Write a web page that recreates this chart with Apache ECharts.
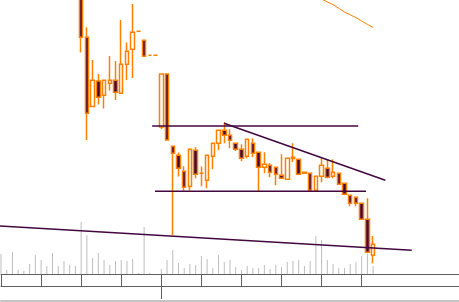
<!DOCTYPE html>
<html>
<head>
<meta charset="utf-8">
<script src="https://cdn.jsdelivr.net/npm/echarts@6/dist/echarts.min.js"></script>
<style>html,body{margin:0;padding:0;background:#fff;}#c{width:459px;height:302px;}</style>
</head>
<body>
<div id="c"></div>
<script>
const categories = ['03-04','03-05','03-06','03-07','03-08','03-09','03-10','03-11','03-12','03-13','03-14','03-15','03-16','03-17','03-18','03-19','03-20','03-21','03-22','03-23','03-24','03-25','03-26','03-27','03-28','03-29','03-30','03-31',
'04-01','04-02','04-03','04-04','04-05','04-06','04-07','04-08','04-09','04-10','04-11','04-12','04-13','04-14','04-15','04-16','04-17','04-18','04-19','04-20','04-21','04-22','04-23','04-24','04-25','04-26','04-27','04-28','04-29','04-30',
'05-01','05-02','05-03','05-04','05-05','05-06','05-07','05-08'];

const openPrices = ['-','-','-','-','-','-','-','-','-','-','-','-','-','-',
41.50,38.14,34.67,35.95,35.24,35.84,35.99,35.34,36.79,37.54,38.44,37.99,37.24,37.24,33.65,36.30,32.69,32.24,31.44,30.67,32.49,31.34,30.99,32.19,32.84,33.49,33.24,32.84,32.54,32.19,32.84,32.39,31.64,31.74,31.64,31.24,31.04,32.07,32.04,31.34,31.34,30.49,31.19,31.59,31.19,31.34,30.84,30.24,30.14,29.84,29.04,27.24];
const closePrices = ['-','-','-','-','-','-','-','-','-','-','-','-','-','-',
38.14,34.34,35.99,35.14,35.99,35.99,35.39,36.79,37.44,38.39,38.44,37.19,37.24,37.24,36.30,33.00,32.34,31.59,30.64,32.54,31.29,31.34,32.24,32.84,33.49,33.24,32.99,32.54,32.09,33.04,32.34,31.64,31.79,31.39,31.29,31.09,32.09,32.14,31.29,31.39,30.49,31.19,31.74,31.14,31.39,30.79,30.29,29.84,29.84,29.04,27.39,27.79];
const lowPrices = ['-','-','-','-','-','-','-','-','-','-','-','-','-','-',
37.37,33.00,34.67,34.77,34.57,35.47,35.00,35.34,36.00,36.10,38.44,37.19,37.24,37.24,33.55,33.00,28.25,31.17,30.47,30.47,31.09,30.69,30.59,31.54,32.49,32.84,32.59,32.45,31.94,32.09,32.14,30.45,31.34,31.14,30.74,31.09,31.04,31.90,31.29,31.34,30.49,30.49,30.89,31.09,31.09,30.79,30.29,29.69,29.69,29.04,27.34,26.84];
const highPrices = ['-','-','-','-','-','-','-','-','-','-','-','-','-','-',
41.75,38.64,37.00,36.30,35.99,37.20,36.95,39.00,37.87,39.80,38.44,37.99,37.24,37.24,36.30,36.30,32.69,32.37,31.69,32.54,32.64,31.67,32.24,32.84,33.49,33.89,33.54,32.84,32.79,33.04,33.09,32.39,32.39,31.84,31.64,32.29,32.09,32.84,32.04,31.39,31.34,31.19,32.09,32.04,32.04,31.34,30.84,30.24,30.14,29.84,30.09,28.20];
const volumes = [500,100,550,100,75,250,475,350,200,525,200,325,225,200,
1300,975,400,525,350,225,325,350,325,375,25,1175,25,0,125,350,600,275,150,250,225,450,375,150,475,300,350,175,100,200,150,150,225,125,225,175,300,325,350,200,325,950,850,350,250,150,150,250,300,450,500,200];
const movingAverage = ['-','-','-','-','-','-','-','-','-','-','-','-','-','-','-','-','-','-','-','-','-','-','-','-','-','-','-','-','-','-','-','-','-','-','-','-','-','-','-','-','-','-','-','-','-','-','-','-','-','-','-','-','-','-','-',
40.23,40.05,39.90,39.77,39.58,39.40,39.26,39.12,38.95,38.78,38.63];

// trend lines: [categoryIndex, price] end points
const longSupport = [[-0.175, 28.70], [71.74, 27.49]];
const upperLevel = [[26.4, 33.70], [62.4, 33.70]];
const lowerLevel = [[26.9, 30.44], [63.76, 30.44]];
const fallingResistance = [[38.95, 33.84], [67.13, 30.99]];

const EMPTY_SLOTS = 15;
const axisCats = categories.concat(new Array(EMPTY_SLOTS).fill(''));
const lastIndex = axisCats.length - 1;
const candleData = categories.map((c, i) => [openPrices[i], closePrices[i], lowPrices[i], highPrices[i]]);

const ORANGE = '#ff8000';
const PURPLE = '#42073f';
const AXIS = '#5f5f5f';

const chart = echarts.init(document.getElementById('c'), null, {renderer: 'canvas'});
const baseCat = {type: 'category', data: axisCats, boundaryGap: false, gridIndex: 0, position: 'bottom',
  axisLabel: {show: false}, splitLine: {show: false}};
chart.setOption({
  animation: false,
  backgroundColor: '#ffffff',
  grid: {left: 1, right: 0, top: 0, bottom: 28},
  xAxis: [
    Object.assign({}, baseCat, {
      axisLine: {show: true, lineStyle: {color: AXIS, width: 1}},
      axisTick: {show: true, length: 12, inside: false, lineStyle: {color: AXIS, width: 1},
        interval: (idx) => idx % 7 === 0 && idx < categories.length}
    }),
    Object.assign({}, baseCat, {
      offset: 0,
      axisLine: {show: false},
      axisTick: {show: true, length: 25, inside: false, lineStyle: {color: AXIS, width: 1},
        interval: (idx) => axisCats[idx] === '04-01'}
    }),
    Object.assign({}, baseCat, {
      offset: 12,
      axisLine: {show: true, lineStyle: {color: AXIS, width: 1}},
      axisTick: {show: false}
    }),
    Object.assign({}, baseCat, {
      offset: 27,
      axisLine: {show: true, lineStyle: {color: '#c4c4c4', width: 2}},
      axisTick: {show: false}
    }),
    {type: 'value', gridIndex: 0, min: 0, max: lastIndex, show: false}
  ],
  yAxis: [
    {type: 'value', min: 26.3, max: 40, show: false, splitLine: {show: false}},
    {type: 'value', min: 0, max: 6850, show: false, splitLine: {show: false}}
  ],
  series: [
    {type: 'bar', name: 'Volume', xAxisIndex: 0, yAxisIndex: 1, data: volumes, barWidth: 1,
      itemStyle: {color: '#bdbdbd'}, z: 1},
    {type: 'line', name: 'MA', xAxisIndex: 0, yAxisIndex: 0, data: movingAverage, symbol: 'none',
      lineStyle: {color: ORANGE, width: 1}, z: 2},
    {type: 'candlestick', name: 'Price', xAxisIndex: 0, yAxisIndex: 0, data: candleData, barWidth: 4,
      itemStyle: {color: '#ffffff', color0: PURPLE, borderColor: ORANGE, borderColor0: ORANGE,
        borderColorDoji: ORANGE, borderWidth: 1.5}, z: 3},
    ...[longSupport, upperLevel, lowerLevel, fallingResistance].map(pts => ({
      type: 'line', xAxisIndex: 4, yAxisIndex: 0, data: pts, symbol: 'none', clip: false,
      lineStyle: {color: PURPLE, width: 1.5}, z: 4
    }))
  ]
});
</script>
</body>
</html>
